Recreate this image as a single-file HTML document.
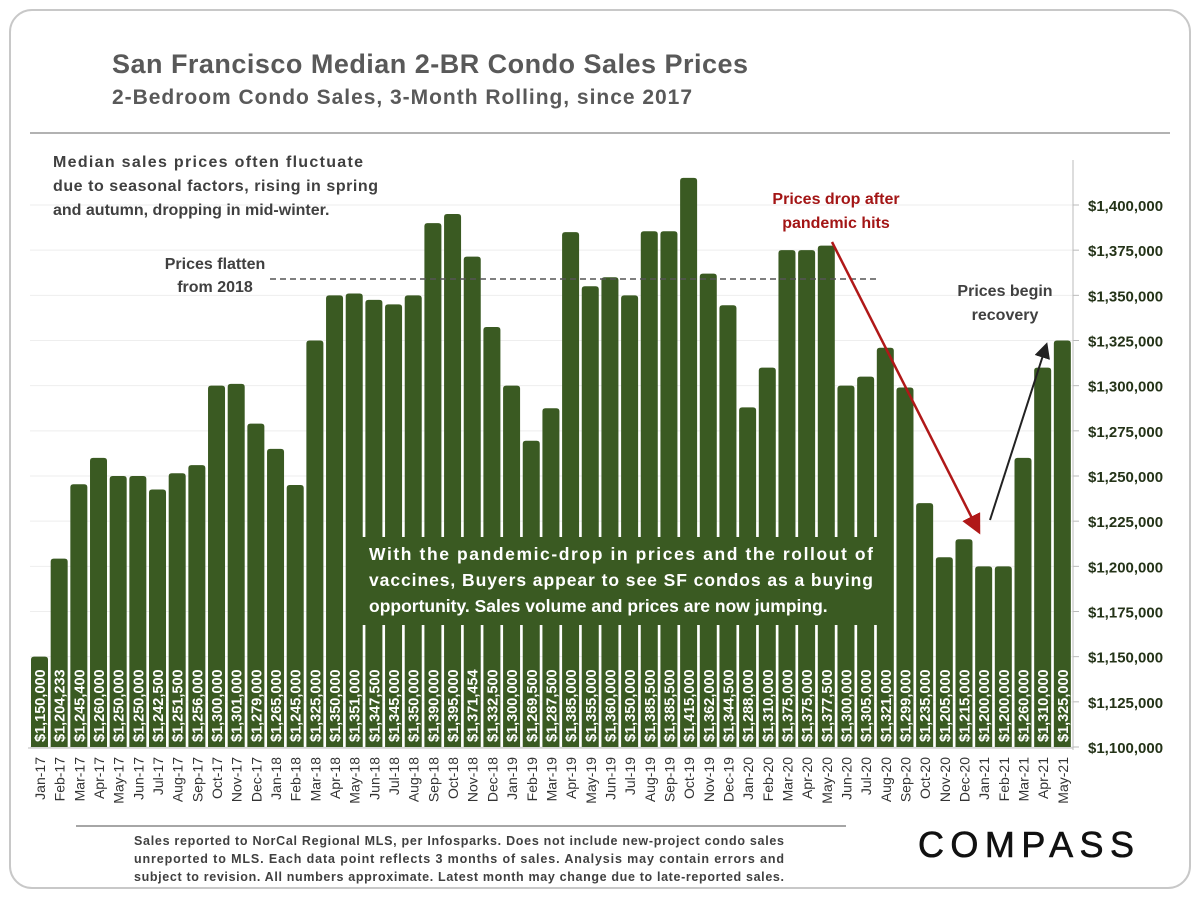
<!DOCTYPE html>
<html><head><meta charset="utf-8"><style>
body{margin:0;background:#fff;font-family:"Liberation Sans",sans-serif}
</style></head><body>
<svg width="1200" height="900" viewBox="0 0 1200 900" xmlns="http://www.w3.org/2000/svg" font-family="Liberation Sans, sans-serif">
<rect x="10" y="10" width="1180" height="878" rx="22" fill="#fff" stroke="#c8c8c8" stroke-width="2"/>
<text x="112" y="73" font-size="27" font-weight="bold" fill="#595959" textLength="636">San Francisco Median 2-BR Condo Sales Prices</text>
<text x="112" y="104" font-size="21" font-weight="bold" fill="#595959" textLength="580">2-Bedroom Condo Sales, 3-Month Rolling, since 2017</text>
<line x1="30" y1="133" x2="1170" y2="133" stroke="#999" stroke-width="1.5"/>
<g id="grid"></g>
<g id="bars"></g>
<g id="axis"></g>
<g font-size="16" font-weight="bold" fill="#404040">
<text x="53" y="167" textLength="310">Median sales prices often fluctuate</text>
<text x="53" y="191" textLength="325">due to seasonal factors, rising in spring</text>
<text x="53" y="215">and autumn, dropping in mid-winter.</text>
<text x="215" y="269" text-anchor="middle">Prices flatten</text>
<text x="215" y="292" text-anchor="middle">from 2018</text>
<text x="1005" y="296" text-anchor="middle">Prices begin</text>
<text x="1005" y="320" text-anchor="middle">recovery</text>
</g>
<g font-size="16" font-weight="bold" fill="#a31515">
<text x="836" y="204" text-anchor="middle">Prices drop after</text>
<text x="836" y="228" text-anchor="middle">pandemic hits</text>
</g>
<line x1="270" y1="279" x2="880" y2="279" stroke="#555" stroke-width="1.5" stroke-dasharray="6,4"/>
<defs>
<marker id="ar" markerWidth="8" markerHeight="8" refX="6" refY="4" orient="auto"><path d="M0,0 L8,4 L0,8 z" fill="#b01818"/></marker>
<marker id="ab" markerWidth="8" markerHeight="8" refX="6" refY="4" orient="auto"><path d="M0,0 L8,4 L0,8 z" fill="#222"/></marker>
</defs>
<line x1="832" y1="242" x2="978" y2="530" stroke="#b01818" stroke-width="2.5" marker-end="url(#ar)"/>
<line x1="990" y1="520" x2="1046" y2="346" stroke="#222" stroke-width="2" marker-end="url(#ab)"/>
<rect x="362" y="537" width="516" height="88" fill="#3a5a22"/>
<g font-size="17.5" font-weight="bold" fill="#fff">
<text x="369" y="560" textLength="504">With the pandemic-drop in prices and the rollout of</text>
<text x="369" y="586" textLength="504">vaccines, Buyers appear to see SF condos as a buying</text>
<text x="369" y="612">opportunity. Sales volume and prices are now jumping.</text>
</g>
<line x1="76" y1="826" x2="846" y2="826" stroke="#888" stroke-width="1.5"/>
<g font-size="12.5" font-weight="bold" fill="#404040">
<text x="134" y="845" textLength="650">Sales reported to NorCal Regional MLS, per Infosparks. Does not include new-project condo sales</text>
<text x="134" y="863" textLength="650">unreported to MLS. Each data point reflects 3 months of sales. Analysis may contain errors and</text>
<text x="134" y="881" textLength="650">subject to revision. All numbers approximate. Latest month may change due to late-reported sales.</text>
</g>
<text x="918" y="857" font-size="36" fill="#111" stroke="#111" stroke-width="0.6" textLength="216">COMPASS</text>
</svg>
<script>
const categories=["Jan-17","Feb-17","Mar-17","Apr-17","May-17","Jun-17","Jul-17","Aug-17","Sep-17","Oct-17","Nov-17","Dec-17","Jan-18","Feb-18","Mar-18","Apr-18","May-18","Jun-18","Jul-18","Aug-18","Sep-18","Oct-18","Nov-18","Dec-18","Jan-19","Feb-19","Mar-19","Apr-19","May-19","Jun-19","Jul-19","Aug-19","Sep-19","Oct-19","Nov-19","Dec-19","Jan-20","Feb-20","Mar-20","Apr-20","May-20","Jun-20","Jul-20","Aug-20","Sep-20","Oct-20","Nov-20","Dec-20","Jan-21","Feb-21","Mar-21","Apr-21","May-21"];
const prices=[1150000,1204233,1245400,1260000,1250000,1250000,1242500,1251500,1256000,1300000,1301000,1279000,1265000,1245000,1325000,1350000,1351000,1347500,1345000,1350000,1390000,1395000,1371454,1332500,1300000,1269500,1287500,1385000,1355000,1360000,1350000,1385500,1385500,1415000,1362000,1344500,1288000,1310000,1375000,1375000,1377500,1300000,1305000,1321000,1299000,1235000,1205000,1215000,1200000,1200000,1260000,1310000,1325000];
const yTicks=[1100000,1125000,1150000,1175000,1200000,1225000,1250000,1275000,1300000,1325000,1350000,1375000,1400000];
const NS="http://www.w3.org/2000/svg";
const y=v=>747-(v-1100000)/300000*542;
const x=i=>39.5+i*19.67;
const fmt=v=>"$"+v.toLocaleString("en-US");
const grid=document.getElementById("grid"),bars=document.getElementById("bars"),axis=document.getElementById("axis");
function mk(t,a,p){const e=document.createElementNS(NS,t);for(const k in a)e.setAttribute(k,a[k]);p.appendChild(e);return e;}
yTicks.forEach(v=>{
 const g=mk("line",{x1:30,x2:1073,y1:y(v),y2:y(v),stroke:"#eeeeee","stroke-width":1},grid);
 
 
 const tk=mk("line",{x1:1073,x2:1079,y1:y(v),y2:y(v),stroke:"#bbb"},axis);
 
 
 const t=mk("text",{x:1088,y:y(v)+6,"font-size":15,"font-weight":"bold",fill:"#243318"},axis);
 t.textContent=fmt(v);
 
 
});
const al=mk("line",{x1:1073,x2:1073,y1:160,y2:750,stroke:"#bbb"},axis);


const bl=mk("line",{x1:28,x2:1073,y1:748,y2:748,stroke:"#bbb"},axis);


prices.forEach((v,i)=>{
 const cx=x(i),top=y(v),w=17;
 const b=mk("path",{d:`M${cx-w/2},747 V${top+3} Q${cx-w/2},${top} ${cx-w/2+3},${top} H${cx+w/2-3} Q${cx+w/2},${top} ${cx+w/2},${top+3} V747 Z`,fill:"#3a5a22"},bars);
 
 
 const t=mk("text",{transform:`translate(${cx+5.5},742) rotate(-90)`,"font-size":14.5,"font-weight":"bold",fill:"#fff"},bars);
 t.textContent=fmt(v);
 
 
 const c=mk("text",{transform:`translate(${cx+5.5},757) rotate(-90)`,"font-size":14,fill:"#333","text-anchor":"end"},axis);
 c.textContent=categories[i];
 
 
});
</script>
</body></html>
